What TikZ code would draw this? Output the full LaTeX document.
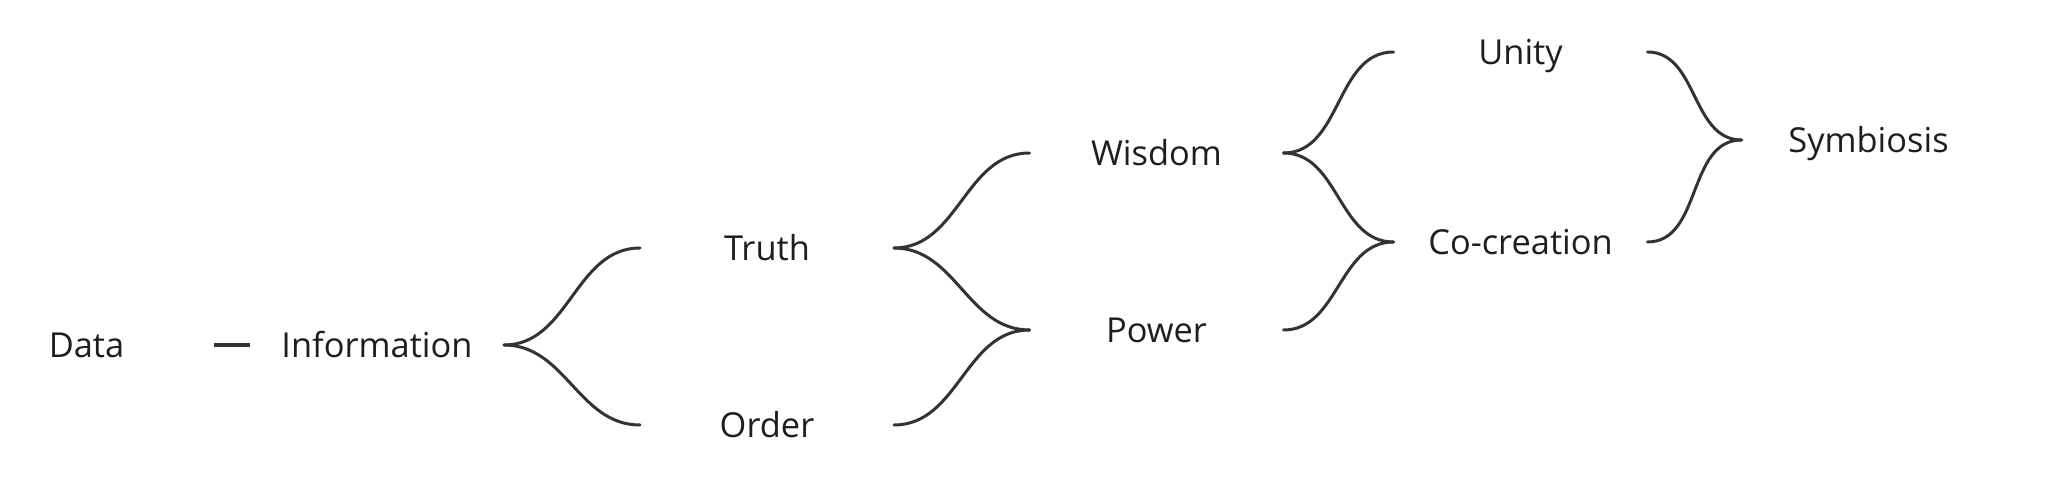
\documentclass[tikz,border=0pt]{standalone}
\usepackage{fontspec}
\setmainfont{Open Sans}
\definecolor{inkline}{HTML}{333333}
\definecolor{inktext}{HTML}{1E1E1E}
\tikzset{every picture/.style={line width=1.5pt}}
\tikzset{
  idea/.style={inner sep=0pt, minimum width=125.5pt, text height=12.2pt, text depth=0pt,
    text=inktext, font=\fontsize{17.2}{20}\selectfont},
  link/.style={draw=inkline, line width=1.5pt, line cap=round}
}

\begin{document}
\begin{tikzpicture}[x=0.5pt,y=0.5pt,yscale=-1,xscale=1]
\useasboundingbox (0,0) rectangle (2048,480);

% Text Node
\node [idea] (Data) at (86.5,345) {Data};
% Text Node
\node [idea] (Information) at (377,345) {Information};
% Text Node
\node [idea] (Truth) at (767,248) {Truth};
% Text Node
\node [idea] (Order) at (767,425) {Order};
% Text Node
\node [idea] (Wisdom) at (1156.5,153) {Wisdom};
% Text Node
\node [idea] (Power) at (1156.5,330) {Power};
% Text Node
\node [idea] (Unity) at (1520.5,52) {Unity};
% Text Node
\node [idea] (Cocreation) at (1520.5,242) {Co-creation};
% Text Node
\node [idea] (Symbiosis) at (1868.5,140) {Symbiosis};

%Straight Lines
\draw [link, line width=2pt, line cap=butt] (Data.east) -- (Information.west);
%Curve Lines
\draw [link] (Information.east) to[out=0,in=180] (Truth.west);
\draw [link] (Information.east) to[out=0,in=180] (Order.west);
%Curve Lines
\draw [link] (Truth.east) to[out=0,in=180] (Wisdom.west);
\draw [link] (Truth.east) to[out=0,in=180] (Power.west);
\draw [link] (Order.east) to[out=0,in=180] (Power.west);
%Curve Lines
\draw [link] (Wisdom.east) to[out=0,in=180] (Unity.west);
\draw [link] (Wisdom.east) to[out=0,in=180] (Cocreation.west);
\draw [link] (Power.east) to[out=0,in=180] (Cocreation.west);
%Curve Lines
\draw [link] (Unity.east) to[out=0,in=180] (Symbiosis.west);
\draw [link] (Cocreation.east) to[out=0,in=180] (Symbiosis.west);

\end{tikzpicture}
\end{document}
